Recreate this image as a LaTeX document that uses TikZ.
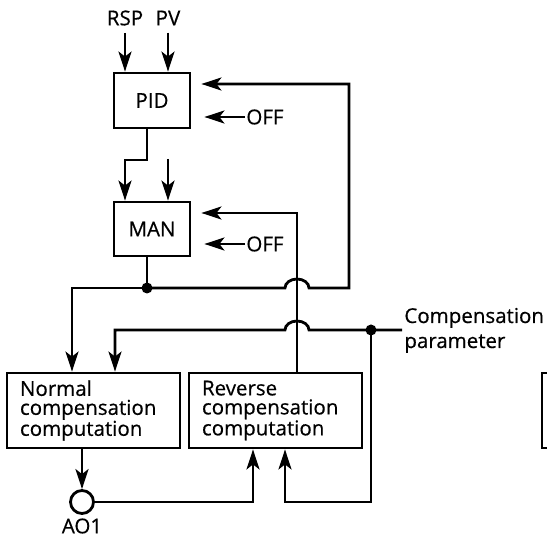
\documentclass[tikz,border=0pt]{standalone}
\usepackage{fontspec}
\setmainfont{Open Sans}[FakeBold=0.5]
\usetikzlibrary{arrows.meta}

\tikzset{
  arr/.style={-{Stealth[length=20pt, width=13pt, inset=5pt]}},
  blockbox/.style={draw, rectangle, inner sep=0pt, minimum width=76pt, font=\fontsize{20.5}{19}\selectfont},
  compbox/.style={draw, rectangle, minimum width=173pt, minimum height=75pt, text width=147pt,
    inner xsep=13pt, align=left, font=\fontsize{20.5}{19}\selectfont},
  lbl/.style={inner sep=0pt, font=\fontsize{20.5}{19}\selectfont},
}

\begin{document}
\begin{tikzpicture}[x=1pt, y=-1pt, line width=2.8pt]
    \useasboundingbox (0,0) rectangle (547,537);

    % Controller blocks
    \node[blockbox, minimum height=55pt] (pid) at (152,100.5) {PID};
    \node[blockbox, minimum height=54pt] (man) at (152,229) {MAN};

    % Computation blocks and output
    \node[compbox] (normal) at (93.5,410.5) {Normal\\compensation\\computation};
    \node[compbox] (reverse) at (275.5,410.5) {Reverse\\compensation\\computation};
    \node[draw, circle, minimum size=23pt, inner sep=0pt] (ao) at (82,502) {};
    \node[lbl] (aolbl) at (82,526) {AO1};

    % Inputs
    \node[lbl] (rsp) at (125,18) {RSP};
    \node[lbl] (pv) at (168,18) {PV};
    \draw[arr, shorten <=6pt] (rsp.south) -- (rsp.south |- pid.north);
    \draw[arr, shorten <=6pt] (pv.south) -- (pv.south |- pid.north);

    % OFF switches
    \node[lbl, anchor=west] (off1) at (245,117) {OFF};
    \node[lbl, anchor=west] (off2) at (245,244) {OFF};
    \draw[arr, shorten >=13pt] (off1.west) -- (off1.west -| pid.east);
    \draw[arr, shorten >=13pt] (off2.west) -- (off2.west -| man.east);

    % PID to MAN
    \draw[arr] (pid.south -| 147,0) -- (147,160) -- (125,160) -- (125,160 |- man.north);
    \coordinate (manin) at (168,159);
    \draw[arr] (manin) -- (manin |- man.north);

    % Junctions
    \coordinate (j1) at (147,288);
    \coordinate (j2) at (371,330);
    \coordinate (cp) at (402,330);
    \draw (man.south -| j1) -- (j1);
    \fill (j1) circle[radius=5.5pt];
    \fill (j2) circle[radius=5.5pt];

    % MV bus, back to PID and down to normal computation
    \draw[arr, shorten >=10pt] (j1) -- (285,288) arc[start angle=180, end angle=0, x radius=12pt, y radius=9pt]
        -- (349,288) -- (349,84) -- (pid.east |- 349,84);
    \draw[arr] (j1) -- (72,288) -- (72,288 |- normal.north);

    % Compensation parameter
    \node[lbl, anchor=base west] (cplbl) at (403,323) {Compensation};
    \node[lbl, anchor=base west] (parlbl) at (403,348) {parameter};
    \draw[arr] (cp) -- (309,330) arc[start angle=0, end angle=180, x radius=12pt, y radius=9pt]
        -- (115,330) -- (115,330 |- normal.north);
    \draw[arr] (j2) -- (371,502) -- (285,502) -- (285,502 |- reverse.south);

    % Reverse computation back to MAN
    \draw[arr, shorten >=10pt] (reverse.north -| 297,0) -- (297,213) -- (man.east |- 297,213);

    % Output AO1
    \draw[arr] (normal.south -| ao) -- (ao.north);
    \draw[arr] (ao.east) -- (253,502) -- (253,502 |- reverse.south);

    % Edge of next block
    \draw (550,373) -- (542,373) -- (542,448) -- (550,448);
\end{tikzpicture}
\end{document}
